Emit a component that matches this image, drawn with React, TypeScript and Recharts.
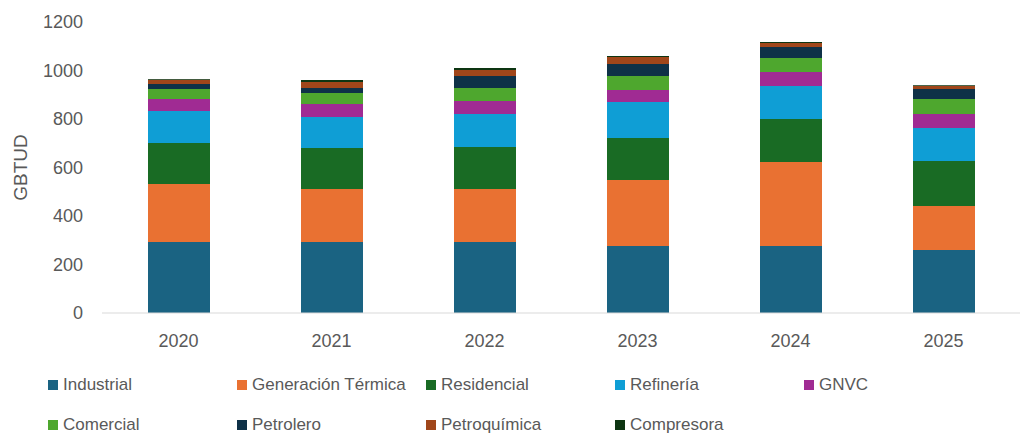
import React from 'react';
import { BarChart, Bar, XAxis, YAxis, Legend } from 'recharts';

const years = ['2020', '2021', '2022', '2023', '2024', '2025'];

const industrial = [293, 293, 293, 276, 276, 260];
const generacionTermica = [239, 218, 218, 272, 347, 181];
const residencial = [169, 169, 174, 174, 177, 186];
const refineria = [132, 128, 136, 148, 136, 136];
const gnvc = [49, 54, 53, 50, 58, 58];
const comercial = [42, 45, 54, 57, 58, 61];
const petrolero = [20, 21, 49, 50, 45, 42];
const petroquimica = [18, 25, 25, 29, 16, 12];
const compresora = [3, 8, 8, 4, 5, 3];

const yTicks = [0, 200, 400, 600, 800, 1000, 1200];

const series = [
  { key: 'industrial', name: 'Industrial', color: '#1A6382', values: industrial },
  { key: 'generacion', name: 'Generación Térmica', color: '#E97132', values: generacionTermica },
  { key: 'residencial', name: 'Residencial', color: '#196B24', values: residencial },
  { key: 'refineria', name: 'Refinería', color: '#0F9ED5', values: refineria },
  { key: 'gnvc', name: 'GNVC', color: '#A02B93', values: gnvc },
  { key: 'comercial', name: 'Comercial', color: '#4EA72E', values: comercial },
  { key: 'petrolero', name: 'Petrolero', color: '#0E3147', values: petrolero },
  { key: 'petroquimica', name: 'Petroquímica', color: '#A0461A', values: petroquimica },
  { key: 'compresora', name: 'Compresora', color: '#0D3512', values: compresora },
];

const data = years.map((year, i) => {
  const row: Record<string, string | number> = { year };
  series.forEach((s) => {
    row[s.key] = s.values[i];
  });
  return row;
});

const textColor = '#595959';
const font = '"Liberation Sans", Arial, sans-serif';

const LegendGrid = () => (
  <div
    style={{
      display: 'grid',
      gridTemplateColumns: 'repeat(5, 189px)',
      gridAutoRows: 40,
      paddingLeft: 48,
      height: 70,
      fontFamily: font,
      fontSize: 17,
      color: textColor,
    }}
  >
    {series.map((s) => (
      <div key={s.key} style={{ display: 'flex', alignItems: 'center', whiteSpace: 'nowrap' }}>
        <span
          style={{
            display: 'inline-block',
            width: 10,
            height: 10,
            background: s.color,
            marginRight: 5,
          }}
        />
        {s.name}
      </div>
    ))}
  </div>
);

export default function App() {
  return (
    <div style={{ position: 'absolute', left: 0, top: 0, background: '#fff' }}>
      <BarChart
        width={1031}
        height={434}
        data={data}
        margin={{ top: 22, right: 11, left: 0, bottom: 21 }}
      >
        <XAxis
          dataKey="year"
          axisLine={{ stroke: '#D9D9D9' }}
          tickLine={false}
          tickMargin={15}
          height={30}
          tick={{ fill: textColor, fontSize: 18, fontFamily: font }}
        />
        <YAxis
          width={102}
          domain={[0, 1200]}
          ticks={yTicks}
          axisLine={false}
          tickLine={false}
          tickMargin={13}
          tick={{ fill: textColor, fontSize: 18, fontFamily: font }}
          label={{
            value: 'GBTUD',
            angle: -90,
            position: 'insideLeft',
            offset: 20,
            style: { textAnchor: 'middle', fill: textColor, fontSize: 19, fontFamily: font },
          }}
        />
        <Legend
          content={<LegendGrid />}
          wrapperStyle={{ top: 365, left: 0, width: 1031 }}
        />
        {series.map((s) => (
          <Bar
            key={s.key}
            dataKey={s.key}
            name={s.name}
            stackId="total"
            fill={s.color}
            barSize={62}
            isAnimationActive={false}
          />
        ))}
      </BarChart>
    </div>
  );
}
